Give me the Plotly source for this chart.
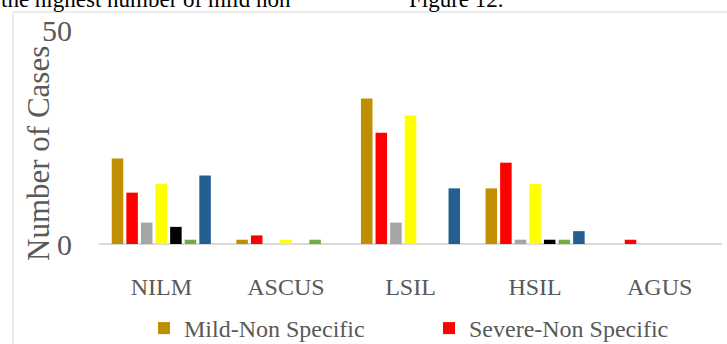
import plotly.graph_objects as go

# Cytology result categories
categories = ["NILM", "ASCUS", "LSIL", "HSIL", "AGUS"]

# Number of cases per category for each group
mild_non_specific = [20, 1, 34, 13, 0]
severe_non_specific = [12, 2, 26, 19, 1]
series_3 = [5, 0, 5, 1, 0]
series_4 = [14, 1, 30, 14, 0]
series_5 = [4, 0, 0, 1, 0]
series_6 = [1, 1, 0, 1, 0]
series_7 = [16, 0, 13, 3, 0]

y_ticks = [0, 50]

series = [
    ("Mild-Non Specific", mild_non_specific, "#BF8F00", True),
    ("Severe-Non Specific", severe_non_specific, "#FF0000", True),
    ("Series 3", series_3, "#A5A5A5", False),
    ("Series 4", series_4, "#FFFF00", False),
    ("Series 5", series_5, "#000000", False),
    ("Series 6", series_6, "#70AD47", False),
    ("Series 7", series_7, "#255E91", False),
]

FONT = "Liberation Serif"
GREY_TEXT = "#595959"

fig = go.Figure()
for name, vals, color, show in series:
    fig.add_trace(go.Bar(
        x=categories, y=vals, name=name,
        marker=dict(color=color, line=dict(width=0)),
        showlegend=show,
    ))

W, H = 727, 344
L, R, T, B = 99, 5, 30, 100
pw, ph = W - L - R, H - T - B


def px_x(p):
    return (p - L) / pw


def px_y(p):
    return 1 + (T - p) / ph


fig.update_layout(
    width=W, height=H,
    margin=dict(l=L, r=R, t=T, b=B, pad=0, autoexpand=False),
    paper_bgcolor="white", plot_bgcolor="white",
    barmode="group", bargap=0.18, bargroupgap=0.21,
    font=dict(family=FONT, color=GREY_TEXT),
    xaxis=dict(
        showgrid=False, showline=False, zeroline=False, ticks="",
        tickfont=dict(family=FONT, size=24, color=GREY_TEXT),
        ticklabelstandoff=26,
    ),
    yaxis=dict(
        range=[0, 50], tickvals=y_ticks, showline=False,
        showgrid=True, gridcolor="#D9D9D9", gridwidth=1.5,
        zeroline=True, zerolinecolor="#D9D9D9", zerolinewidth=2,
        tickfont=dict(family=FONT, size=30, color=GREY_TEXT),
        ticklabelstandoff=26,
    ),
    legend=dict(
        orientation="h", x=px_x(144), xanchor="left",
        y=px_y(306), yanchor="top",
        font=dict(family=FONT, size=24, color=GREY_TEXT),
        entrywidth=240, entrywidthmode="pixels",
        bgcolor="rgba(0,0,0,0)", borderwidth=0,
    ),
    shapes=[dict(
        type="rect", xref="paper", yref="paper", layer="below",
        x0=px_x(13), x1=px_x(760), y0=px_y(400), y1=px_y(12),
        line=dict(color="#D9D9D9", width=1), fillcolor="rgba(0,0,0,0)",
    )],
    annotations=[
        dict(text="Number of Cases", textangle=-90, showarrow=False,
             xref="paper", yref="paper", x=px_x(38), y=px_y(154),
             xanchor="center", yanchor="middle",
             font=dict(family=FONT, size=31, color=GREY_TEXT)),
        dict(text="the highest number of mild non", showarrow=False,
             xref="paper", yref="paper", x=px_x(-1), y=px_y(-1),
             xanchor="left", yanchor="middle",
             font=dict(family=FONT, size=23, color="black")),
        dict(text="Figure 12.", showarrow=False,
             xref="paper", yref="paper", x=px_x(407), y=px_y(-1),
             xanchor="left", yanchor="middle",
             font=dict(family=FONT, size=23, color="black")),
    ],
)

fig.write_html("out.html")
